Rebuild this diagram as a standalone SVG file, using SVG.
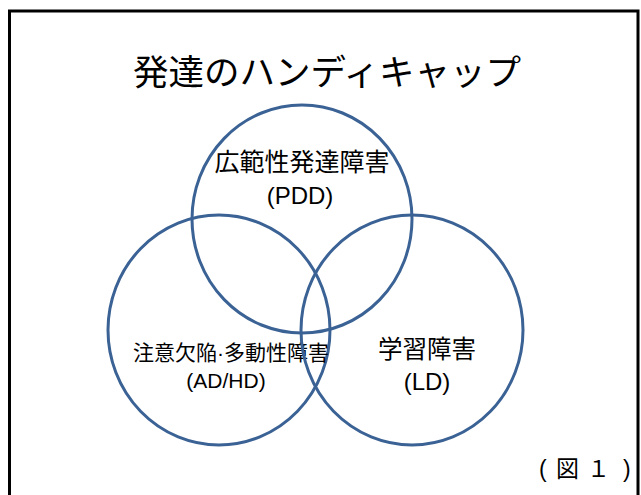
<svg xmlns="http://www.w3.org/2000/svg" width="641" height="495" viewBox="0 0 641 495">
<style>
.c{fill:none;stroke:#3b6295;stroke-width:3}
.t{font-family:"Liberation Sans","Noto Sans CJK JP",sans-serif;fill:#000;text-anchor:middle}
</style>
<rect x="0" y="0" width="641" height="495" fill="#fff"/>
<rect x="9.5" y="11" width="628.5" height="495" fill="none" stroke="#000" stroke-width="3"/>
<text class="t" x="327" y="85" font-size="35.5">発達のハンディキャップ</text>
<g id="connectors"></g>
<g id="pdd">
<ellipse class="c" cx="302" cy="219" rx="110" ry="114"/>
<text class="t" x="302" y="171" font-size="25">広範性発達障害</text>
<text class="t" x="300" y="204" font-size="24">(PDD)</text>
</g>
<g id="adhd">
<ellipse class="c" cx="219" cy="330" rx="111" ry="115"/>
<text class="t" x="231" y="360" font-size="21">注意欠陥·多動性障害</text>
<text class="t" x="226" y="388" font-size="21">(AD/HD)</text>
</g>
<g id="ld">
<ellipse class="c" cx="412" cy="330" rx="111" ry="115"/>
<text class="t" x="427" y="358" font-size="24.5">学習障害</text>
<text class="t" x="427" y="390" font-size="24">(LD)</text>
</g>
<text class="t" x="539 556 587 623" y="477" font-size="23" style="text-anchor:start">(図１)</text>
</svg>
